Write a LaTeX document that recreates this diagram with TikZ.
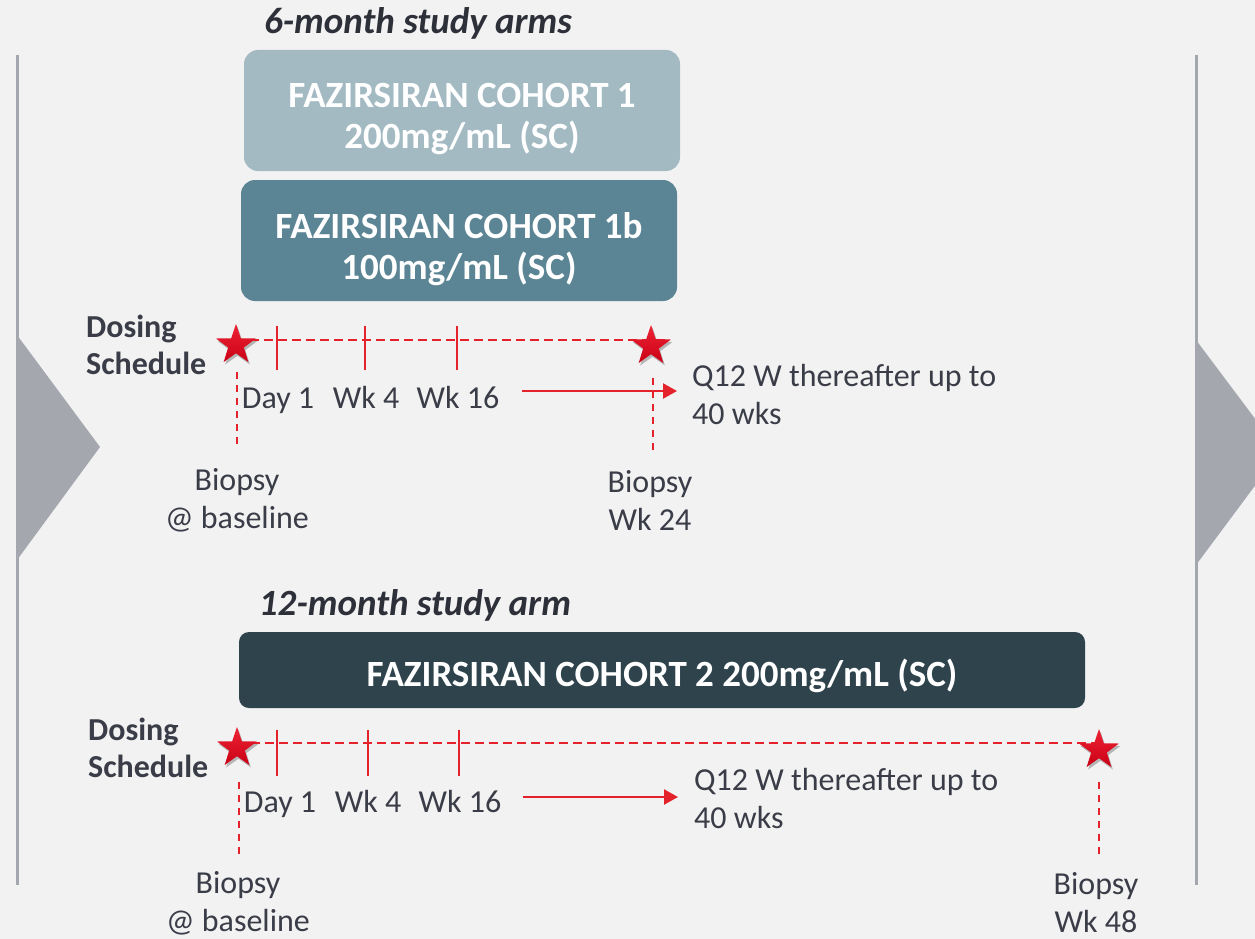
\documentclass[tikz,border=0pt]{standalone}
\usepackage{fontspec}
\setmainfont{Carlito}
\usetikzlibrary{arrows.meta,shapes.geometric,shadows}

\definecolor{pagebg}{HTML}{F2F2F2}
\definecolor{railgray}{HTML}{A5A7AF}
\definecolor{ink}{HTML}{3A3D47}
\definecolor{headink}{HTML}{2D3039}
\definecolor{armlight}{HTML}{A3BAC3}
\definecolor{armmid}{HTML}{5B8594}
\definecolor{armdark}{HTML}{2E434C}
\definecolor{lred}{HTML}{E3222B}
\definecolor{startop}{HTML}{EE2233}
\definecolor{starbot}{HTML}{C90016}

\tikzset{
  body/.style={font=\fontsize{32}{38}\selectfont, text=ink, inner sep=0pt},
  bodybold/.style={font=\fontsize{32}{37}\selectfont\bfseries, text=ink, inner sep=0pt, align=left},
  heading/.style={font=\fontsize{37}{40}\selectfont\bfseries\itshape, text=headink, inner sep=0pt},
  armtext/.style={font=\fontsize{37}{41}\selectfont\bfseries, text=white, inner sep=0pt, align=center},
  armbox/.style={rounded corners=14pt, minimum width=436pt, minimum height=121pt, inner sep=0pt},
  redstar/.style={star, star points=5, star point ratio=2.55, minimum size=42pt, inner sep=0pt,
    draw=none, top color=startop, bottom color=starbot,
    drop shadow={shadow xshift=1.5pt, shadow yshift=-2.5pt, opacity=0.25, fill=black}},
  timeline/.style={draw=lred, line width=2.6pt, dash pattern=on 9pt off 5pt},
  tickmark/.style={draw=lred, line width=2.2pt},
  biopsyline/.style={draw=lred, line width=2.2pt, dash pattern=on 7pt off 6pt},
  flow/.style={draw=lred, line width=2.2pt, -{Triangle[length=14pt,width=15pt]}},
  rail/.style={draw=railgray, line width=3pt},
}

\begin{document}
\begin{tikzpicture}[x=1pt,y=-1pt]
\useasboundingbox (0,0) rectangle (1255,939);
\fill[pagebg] (0,0) rectangle (1255,939);

% side rails with their chevrons
\draw[rail] (17,55) -- (17,885);
\draw[rail] (1196,55) -- (1196,885);
\fill[railgray] (17,335) -- (100,447) -- (17,560) -- cycle;
\begin{scope}
  \clip (0,0) rectangle (1255,939);
  \fill[railgray] (1196,340) -- (1280,452) -- (1196,565) -- cycle;
\end{scope}

% ---------------- 6-month arms ----------------
\node[heading, anchor=base] (title6) at (418,34) {6-month study arms};

\node[armbox, fill=armlight] (arm1) at (462,110.5) {};
\node[armtext, anchor=north] (arm1txt) at (462,83) {FAZIRSIRAN COHORT 1\\200mg/mL (SC)};
\node[armbox, fill=armmid] (arm1b) at (459,240.5) {};
\node[armtext, anchor=north] (arm1btxt) at (459,212) {FAZIRSIRAN COHORT 1b\\100mg/mL (SC)};

\node[bodybold, anchor=north west] (dose1) at (86,315) {Dosing\\Schedule};

\coordinate (line1a) at (236,340);
\coordinate (line1b) at (668,340);
\draw[timeline] (line1a) -- (line1b);
\foreach \x in {277,365,457} \draw[tickmark] (\x,326) -- (\x,370);

\node[redstar] (star1a) at (236,345) {};
\node[redstar] (star1b) at (651,346) {};

\node[body, anchor=base] (day1a) at (278,408) {Day 1};
\node[body, anchor=base] (wk4a) at (366,408) {Wk 4};
\node[body, anchor=base] (wk16a) at (458,408) {Wk 16};

\coordinate (arrow1a) at (522,391);
\coordinate (arrow1b) at (677,391);
\draw[flow] (arrow1a) -- (arrow1b);
\node[body, anchor=north west, align=left] (q12a) at (692,364) {Q12 W thereafter up to\\40 wks};

\coordinate (drop1a) at (237,372);
\coordinate (drop1aend) at (237,450);
\draw[biopsyline] (drop1a) -- (drop1aend);
\coordinate (drop1b) at (653,378);
\coordinate (drop1bend) at (653,452);
\draw[biopsyline] (drop1b) -- (drop1bend);

\node[body, anchor=north, align=center] (bio1a) at (237,468) {Biopsy\\@ baseline};
\node[body, anchor=north, align=center] (bio1b) at (650,470) {Biopsy\\Wk 24};

% ---------------- 12-month arm ----------------
\node[heading, anchor=base] (title12) at (415,615) {12-month study arm};

\node[rounded corners=10pt, minimum width=846pt, minimum height=76pt, inner sep=0pt,
      fill=armdark] (arm2) at (662,670) {};
\node[armtext, anchor=base] (arm2txt) at (662,686) {FAZIRSIRAN COHORT 2 200mg/mL (SC)};

\node[bodybold, anchor=north west] (dose2) at (88,718) {Dosing\\Schedule};

\coordinate (line2a) at (237,743);
\coordinate (line2b) at (1100,743);
\draw[timeline] (line2a) -- (line2b);
\foreach \x in {277,368,459} \draw[tickmark] (\x,730) -- (\x,776);

\node[redstar] (star2a) at (237,748) {};
\node[redstar] (star2b) at (1099,750) {};

\node[body, anchor=base] (day1b) at (280,812) {Day 1};
\node[body, anchor=base] (wk4b) at (368,812) {Wk 4};
\node[body, anchor=base] (wk16b) at (460,812) {Wk 16};

\coordinate (arrow2a) at (523,797);
\coordinate (arrow2b) at (678,797);
\draw[flow] (arrow2a) -- (arrow2b);
\node[body, anchor=north west, align=left] (q12b) at (694,768) {Q12 W thereafter up to\\40 wks};

\coordinate (drop2a) at (239,782);
\coordinate (drop2aend) at (239,856);
\draw[biopsyline] (drop2a) -- (drop2aend);
\coordinate (drop2b) at (1099,782);
\coordinate (drop2bend) at (1099,857);
\draw[biopsyline] (drop2b) -- (drop2bend);

\node[body, anchor=north, align=center] (bio2a) at (238,871) {Biopsy\\@ baseline};
\node[body, anchor=north, align=center] (bio2b) at (1096,872) {Biopsy\\Wk 48};
\end{tikzpicture}
\end{document}
